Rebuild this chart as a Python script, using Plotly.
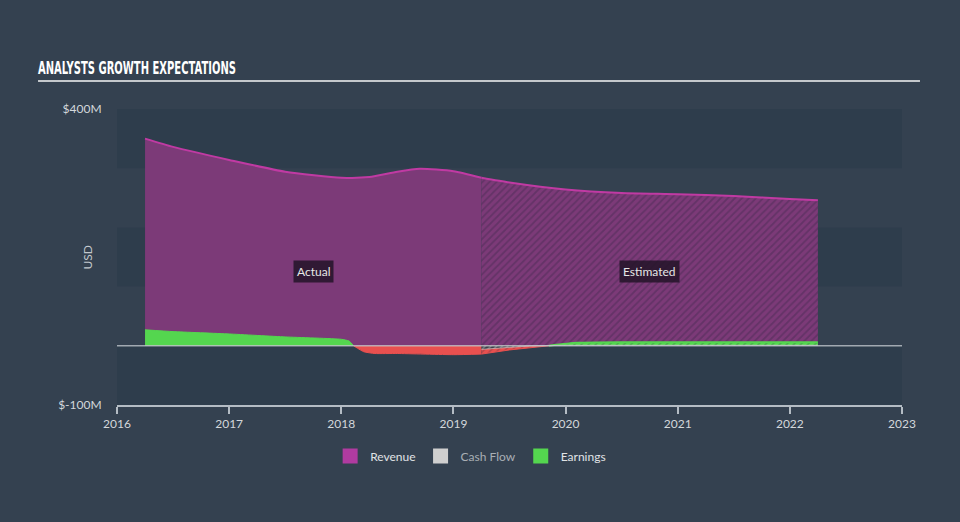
import plotly.graph_objects as go

# ---- data (USD millions) ----
rev_act_x = [2016.25, 2016.5, 2017.0, 2017.5, 2018.0, 2018.25, 2018.5, 2018.7, 2019.0, 2019.25]
rev_act_y = [350, 336, 314, 294, 284, 285, 294, 299, 295, 284]
rev_est_x = [2019.25, 2019.5, 2020.0, 2020.5, 2021.0, 2021.5, 2022.0, 2022.25]
rev_est_y = [284, 276, 264, 258, 256, 253, 248, 246]

earn_pos_x = [2016.25, 2016.5, 2017.0, 2017.5, 2018.0, 2018.07, 2018.11]
earn_pos_y = [27, 24, 20, 15, 11, 8, 0]
earn_neg_x = [2018.11, 2018.2, 2018.3, 2018.5, 2019.0, 2019.25]
earn_neg_y = [0, -10, -13, -13, -15, -14]
earn_est_neg_x = [2019.25, 2019.5, 2019.85]
earn_est_neg_y = [-14, -7, 0]
earn_est_pos_x = [2019.85, 2020.1, 2020.5, 2021.0, 2021.5, 2022.0, 2022.25]
earn_est_pos_y = [0, 5, 6, 6, 6, 6, 6]

cf_est_x = [2019.25, 2019.45, 2019.7, 2020.0, 2021.0, 2022.0, 2022.25]
cf_est_y = [-6, -3, 0, 1, 1, 1, 1]

year_ticks = [2016, 2017, 2018, 2019, 2020, 2021, 2022, 2023]
y_ticks = [-100, 400]
y_tick_text = ["$-100M", "$400M"]

# ---- styles ----
BG = "#344150"
BAND_DARK = "#2e3d4c"
PURPLE = "#7c3a78"
MAGENTA = "#c03aa3"
GREEN = "#54d64f"
RED = "#e8504f"
GRAY = "#cfcfcf"
TXT = "#d3d7db"
FONT = "Lato"

fig = go.Figure()

fig.add_trace(go.Scatter(x=rev_act_x, y=rev_act_y, mode="lines", fill="tozeroy",
                         fillcolor=PURPLE, line=dict(color=MAGENTA, width=2, shape="spline", smoothing=0.6),
                         showlegend=False, hoverinfo="skip"))
fig.add_trace(go.Scatter(x=rev_est_x, y=rev_est_y, mode="lines", fill="tozeroy",
                         fillcolor=PURPLE,
                         fillpattern=dict(shape="/", bgcolor=PURPLE, fgcolor="#4b2b55", size=5, solidity=0.35),
                         line=dict(color=MAGENTA, width=2, shape="spline", smoothing=0.6),
                         showlegend=False, hoverinfo="skip"))

fig.add_trace(go.Scatter(x=earn_pos_x, y=earn_pos_y, mode="lines", fill="tozeroy",
                         fillcolor=GREEN, line=dict(color=GREEN, width=1, shape="spline", smoothing=0.5),
                         showlegend=False, hoverinfo="skip"))
fig.add_trace(go.Scatter(x=earn_neg_x, y=earn_neg_y, mode="lines", fill="tozeroy",
                         fillcolor=RED, line=dict(color=RED, width=1, shape="spline", smoothing=0.5),
                         showlegend=False, hoverinfo="skip"))
fig.add_trace(go.Scatter(x=earn_est_neg_x, y=earn_est_neg_y, mode="lines", fill="tozeroy",
                         fillcolor=RED,
                         fillpattern=dict(shape="/", bgcolor=RED, fgcolor="#8a3a45", size=5, solidity=0.3),
                         line=dict(color=RED, width=1),
                         showlegend=False, hoverinfo="skip"))
fig.add_trace(go.Scatter(x=earn_est_pos_x, y=earn_est_pos_y, mode="lines", fill="tozeroy",
                         fillcolor=GREEN,
                         fillpattern=dict(shape="/", bgcolor=GREEN, fgcolor="#2f7a3a", size=5, solidity=0.3),
                         line=dict(color=GREEN, width=2, shape="spline", smoothing=0.5),
                         showlegend=False, hoverinfo="skip"))
fig.add_trace(go.Scatter(x=cf_est_x, y=cf_est_y, mode="lines", fill="tozeroy",
                         fillcolor="#555a60",
                         fillpattern=dict(shape="/", bgcolor="#3a3f48", fgcolor=GRAY, size=4, solidity=0.3),
                         line=dict(color="rgba(210,210,210,0.6)", width=1),
                         showlegend=False, hoverinfo="skip"))

# legend entries
for name, col in [("Revenue", "#b03ba0"), ("<span style='color:#a9afb5'>Cash Flow</span>", GRAY), ("Earnings", GREEN)]:
    fig.add_trace(go.Scatter(x=[None], y=[None], mode="markers", name=name,
                             marker=dict(symbol="square", size=15, color=col)))

shapes = []
for y0, y1 in [(300, 400), (100, 200), (-100, 0)]:
    shapes.append(dict(type="rect", xref="paper", yref="y", x0=0, x1=1, y0=y0, y1=y1,
                       fillcolor=BAND_DARK, line=dict(width=0), layer="below"))
shapes.append(dict(type="line", xref="paper", yref="y", x0=0, x1=1, y0=0, y1=0,
                   line=dict(color="rgba(200,205,210,0.75)", width=1.5), layer="above"))
shapes.append(dict(type="line", xref="paper", yref="paper", x0=-0.1006, x1=1.0229, y0=1.0946, y1=1.0946,
                   line=dict(color="#c4c8cc", width=2)))

annotations = [
    dict(x=2017.75, y=125, xref="x", yref="y", text="Actual", showarrow=False,
         font=dict(family=FONT, size=12, color="#e6e6e6"), bgcolor="rgba(35,20,40,0.85)", borderpad=3),
    dict(x=2020.75, y=125, xref="x", yref="y", text="Estimated", showarrow=False,
         font=dict(family=FONT, size=12, color="#e6e6e6"), bgcolor="rgba(35,20,40,0.85)", borderpad=3),
    dict(x=-0.0497, y=150, xref="paper", yref="y", text="USD", showarrow=False, textangle=-90,
         font=dict(family=FONT, size=12, color="#c3c8cd")),
]

fig.update_layout(
    width=960, height=522,
    margin=dict(l=117, r=58, t=109, b=117),
    paper_bgcolor=BG, plot_bgcolor=BG,
    title=dict(text="<b>ANALYSTS GROWTH EXPECTATIONS</b>", x=38/960, xanchor="left",
               y=1 - 68/522, yanchor="middle", yref="container",
               font=dict(family="DejaVu Sans", size=17, color="#ffffff")),
    xaxis=dict(range=[2016, 2023], tickvals=year_ticks, ticktext=[str(t) for t in year_ticks],
               showgrid=False, zeroline=False, showline=True, linecolor="#b4bcc4", linewidth=1.5,
               ticks="outside", ticklen=7, tickcolor="#b4bcc4", tickwidth=1.5,
               tickfont=dict(family=FONT, size=12, color=TXT)),
    yaxis=dict(range=[-100, 400], tickvals=y_ticks, ticktext=y_tick_text,
               showgrid=False, zeroline=False, showline=False,
               ticks="outside", ticklen=12, tickcolor="rgba(0,0,0,0)",
               tickfont=dict(family=FONT, size=12, color=TXT)),
    legend=dict(orientation="h", x=0.4505, xanchor="center", y=-0.172, yanchor="middle",
                font=dict(family=FONT, size=12, color="#e0e3e6"), bgcolor="rgba(0,0,0,0)",
                itemclick=False),
    shapes=shapes, annotations=annotations,
)

# condense the title text horizontally to mimic the narrow display face
post = """
var gd = document.getElementById('{plot_id}');
function squeeze(){
  gd.querySelectorAll('.gtitle').forEach(function(t){
    t.setAttribute('textLength','198');
    t.setAttribute('lengthAdjust','spacingAndGlyphs');
  });
}
squeeze();
gd.on('plotly_afterplot', squeeze);
"""
fig.write_html("out.html", post_script=post)
